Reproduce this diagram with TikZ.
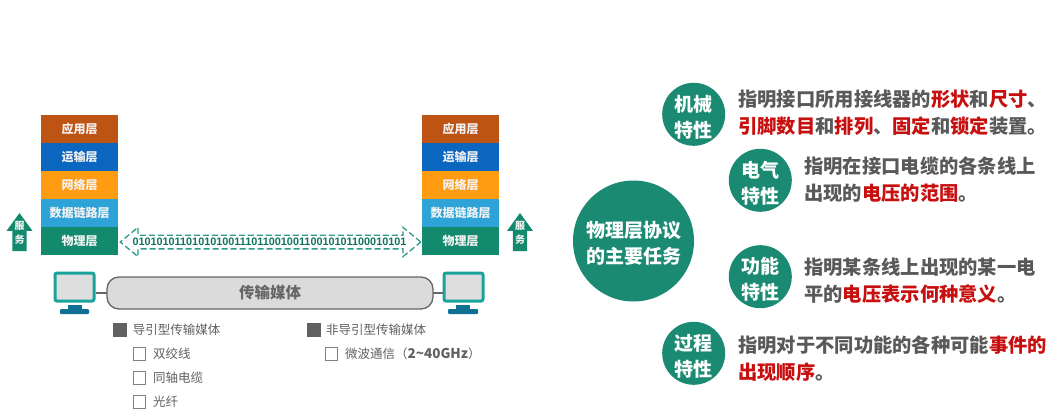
\documentclass[tikz,border=0pt]{standalone}
\usepackage{fontspec}
\setmainfont{Noto Sans CJK SC}
\newfontfamily\digitfont{Liberation Sans}
\usetikzlibrary{shapes.arrows}
\definecolor{appc}{HTML}{BD5413}
\definecolor{trac}{HTML}{0A66BE}
\definecolor{netc}{HTML}{FF9C12}
\definecolor{linkc}{HTML}{2EA3D8}
\definecolor{phyc}{HTML}{138A6E}
\definecolor{circc}{HTML}{1A8A72}
\definecolor{dashc}{HTML}{2E9A85}
\definecolor{monc}{HTML}{1AA39A}
\definecolor{standc}{HTML}{0F6F94}
\definecolor{txtc}{HTML}{595959}
\definecolor{redc}{HTML}{C80F0F}
\definecolor{paper}{HTML}{F2F2F2}
\newcommand{\hl}[1]{\textcolor{redc}{#1}}
\newcommand{\twolines}[2]{\rule{0pt}{21.5pt}#1\\#2}
\tikzset{
  layerbox/.style={minimum width=77pt,minimum height=28pt,inner sep=0pt,outer sep=0pt,text=paper,
    font=\fontsize{12}{12}\selectfont\bfseries},
  srvarrow/.style={single arrow,shape border rotate=90,fill=phyc,draw=none,anchor=tip,inner sep=7pt,
    minimum width=25.5pt,minimum height=38pt,single arrow head extend=5.7pt,single arrow tip angle=72},
  srvlabel/.style={text=paper,inner sep=0pt,font=\fontsize{10}{10}\selectfont\bfseries},
  screen/.style={draw=monc,line width=3pt,fill=black!13,rounded corners=2pt,minimum width=39pt,minimum height=28pt,inner sep=0pt,outer sep=1.5pt},
  standbar/.style={fill=standc,inner sep=0pt,outer sep=0pt},
  fullsq/.style={fill=black!62,draw=black!62,minimum size=13pt,inner sep=0pt},
  opensq/.style={fill=white,draw=black!50,line width=1.1pt,minimum size=12.5pt,inner sep=0pt},
  listtext/.style={anchor=west,inner sep=0pt,text=black!62,font=\fontsize{12.5}{12.5}\selectfont},
  bigcirc/.style={circle,fill=circc,text=white,inner sep=0pt,minimum size=121pt,align=center,
    font=\fontsize{19}{26}\selectfont\bfseries},
  smallcirc/.style={circle,fill=circc,text=white,inner sep=0pt,minimum size=63pt,align=center,
    font=\fontsize{19}{26}\selectfont\bfseries},
  desc/.style={anchor=west,inner sep=0pt,align=left,text=txtc,font=\fontsize{19.3}{27}\selectfont\bfseries},
}
\begin{document}
\begin{tikzpicture}[x=1pt,y=-1pt]
\useasboundingbox[fill=white] (0,0) rectangle (1052,412);
% left stack
\node[layerbox,fill=appc]  (la) at (79.5,129) {应用层};
\node[layerbox,fill=trac]  (lt) at (79.5,157) {运输层};
\node[layerbox,fill=netc]  (ln) at (79.5,185) {网络层};
\node[layerbox,fill=linkc] (ld) at (79.5,213) {数据链路层};
\node[layerbox,fill=phyc]  (lp) at (79.5,241) {物理层};
% right stack
\node[layerbox,fill=appc]  (ra) at (460.5,129) {应用层};
\node[layerbox,fill=trac]  (rt) at (460.5,157) {运输层};
\node[layerbox,fill=netc]  (rn) at (460.5,185) {网络层};
\node[layerbox,fill=linkc] (rd) at (460.5,213) {数据链路层};
\node[layerbox,fill=phyc]  (rp) at (460.5,241) {物理层};
% service arrows
\node[srvarrow] (sl) at (19.5,212.7) {};
\node[srvlabel] (sl1) at (19.5,226) {服};
\node[srvlabel] (sl2) at (19.5,240) {务};
\node[srvarrow] (sr) at (520,212.7) {};
\node[srvlabel] (sr1) at (520,226) {服};
\node[srvlabel] (sr2) at (520,240) {务};
% bit stream
\node[double arrow,draw=dashc,dashed,dash pattern=on 6pt off 3pt,line width=1.3pt,fill=white,
  inner xsep=0pt,inner ysep=6.2pt,minimum width=28pt,minimum height=300.5pt,
  double arrow head extend=7.8pt,double arrow tip angle=79] (bits) at (270.5,242) {};
\node[inner sep=0pt,text=phyc!85!black] (bitstxt) at (269.5,242)
  {\digitfont\bfseries\fontsize{10.85}{10.85}\selectfont 0101010110101010011101100100110010101100010101};
% medium and hosts
\node[draw=black!60,line width=1.3pt,fill=black!14,rounded corners=12pt,minimum width=326pt,minimum height=32pt,
  inner sep=0pt,outer sep=0pt,text=black!60,font=\fontsize{15.5}{15.5}\selectfont\bfseries] (media) at (270,293) {传输媒体};
\node[screen] (ml) at (74.5,287) {};
\node[screen] (mr) at (463.5,287) {};
\draw[draw=black!60,line width=2pt] (media.west) -- (media.west -| ml.east);
\draw[draw=black!60,line width=2pt] (media.east) -- (media.east -| mr.west);
\node[standbar,minimum width=14pt,minimum height=4pt] (sbl) at (74.5,307) {};
\node[standbar,minimum width=29pt,minimum height=5pt,rounded corners=1pt] (bbl) at (74.5,311.5) {};
\node[standbar,minimum width=14pt,minimum height=4pt] (sbr) at (463,307) {};
\node[standbar,minimum width=30pt,minimum height=5pt,rounded corners=1pt] (bbr) at (463,311.5) {};
% lists
\node[fullsq] (q1) at (119.5,330) {};
\node[listtext] (t1) at (132.7,330) {导引型传输媒体};
\node[opensq] (q2) at (139.5,354) {};
\node[listtext] (t2) at (153,354) {双绞线};
\node[opensq] (q3) at (139.5,378) {};
\node[listtext] (t3) at (153,378) {同轴电缆};
\node[opensq] (q4) at (139.5,402) {};
\node[listtext] (t4) at (153,402) {光纤};
\node[fullsq] (q5) at (313.5,330) {};
\node[listtext] (t5) at (326,330) {非导引型传输媒体};
\node[opensq] (q6) at (331.5,354) {};
\node[listtext] (t6) at (345,354) {微波通信（{\fontsize{13.5}{13.5}\selectfont\bfseries 2\textasciitilde 40GHz}）};
% right part
\node[bigcirc] (main) at (633.5,241) {\twolines{物理层协议}{的主要任务}};
\node[smallcirc] (c1) at (693.7,114.3) {\twolines{机械}{特性}};
\node[smallcirc] (c2) at (760.3,180.3) {\twolines{电气}{特性}};
\node[smallcirc] (c3) at (760.3,276.7) {\twolines{功能}{特性}};
\node[smallcirc] (c4) at (693.7,353.3) {\twolines{过程}{特性}};
\node[desc] (d1) at (738,113) {指明接口所用接线器的\hl{形状}和\hl{尺寸}、\\\hl{引脚数目}和\hl{排列}、\hl{固定}和\hl{锁定}装置。};
\node[desc] (d2) at (804,179.5) {指明在接口电缆的各条线上\\出现的\hl{电压的范围}。};
\node[desc] (d3) at (804,281) {指明某条线上出现的某一电\\平的\hl{电压表示何种意义}。};
\node[desc] (d4) at (738,359) {指明对于不同功能的各种可能\hl{事件的}\\\hl{出现顺序}。};
\end{tikzpicture}
\end{document}
